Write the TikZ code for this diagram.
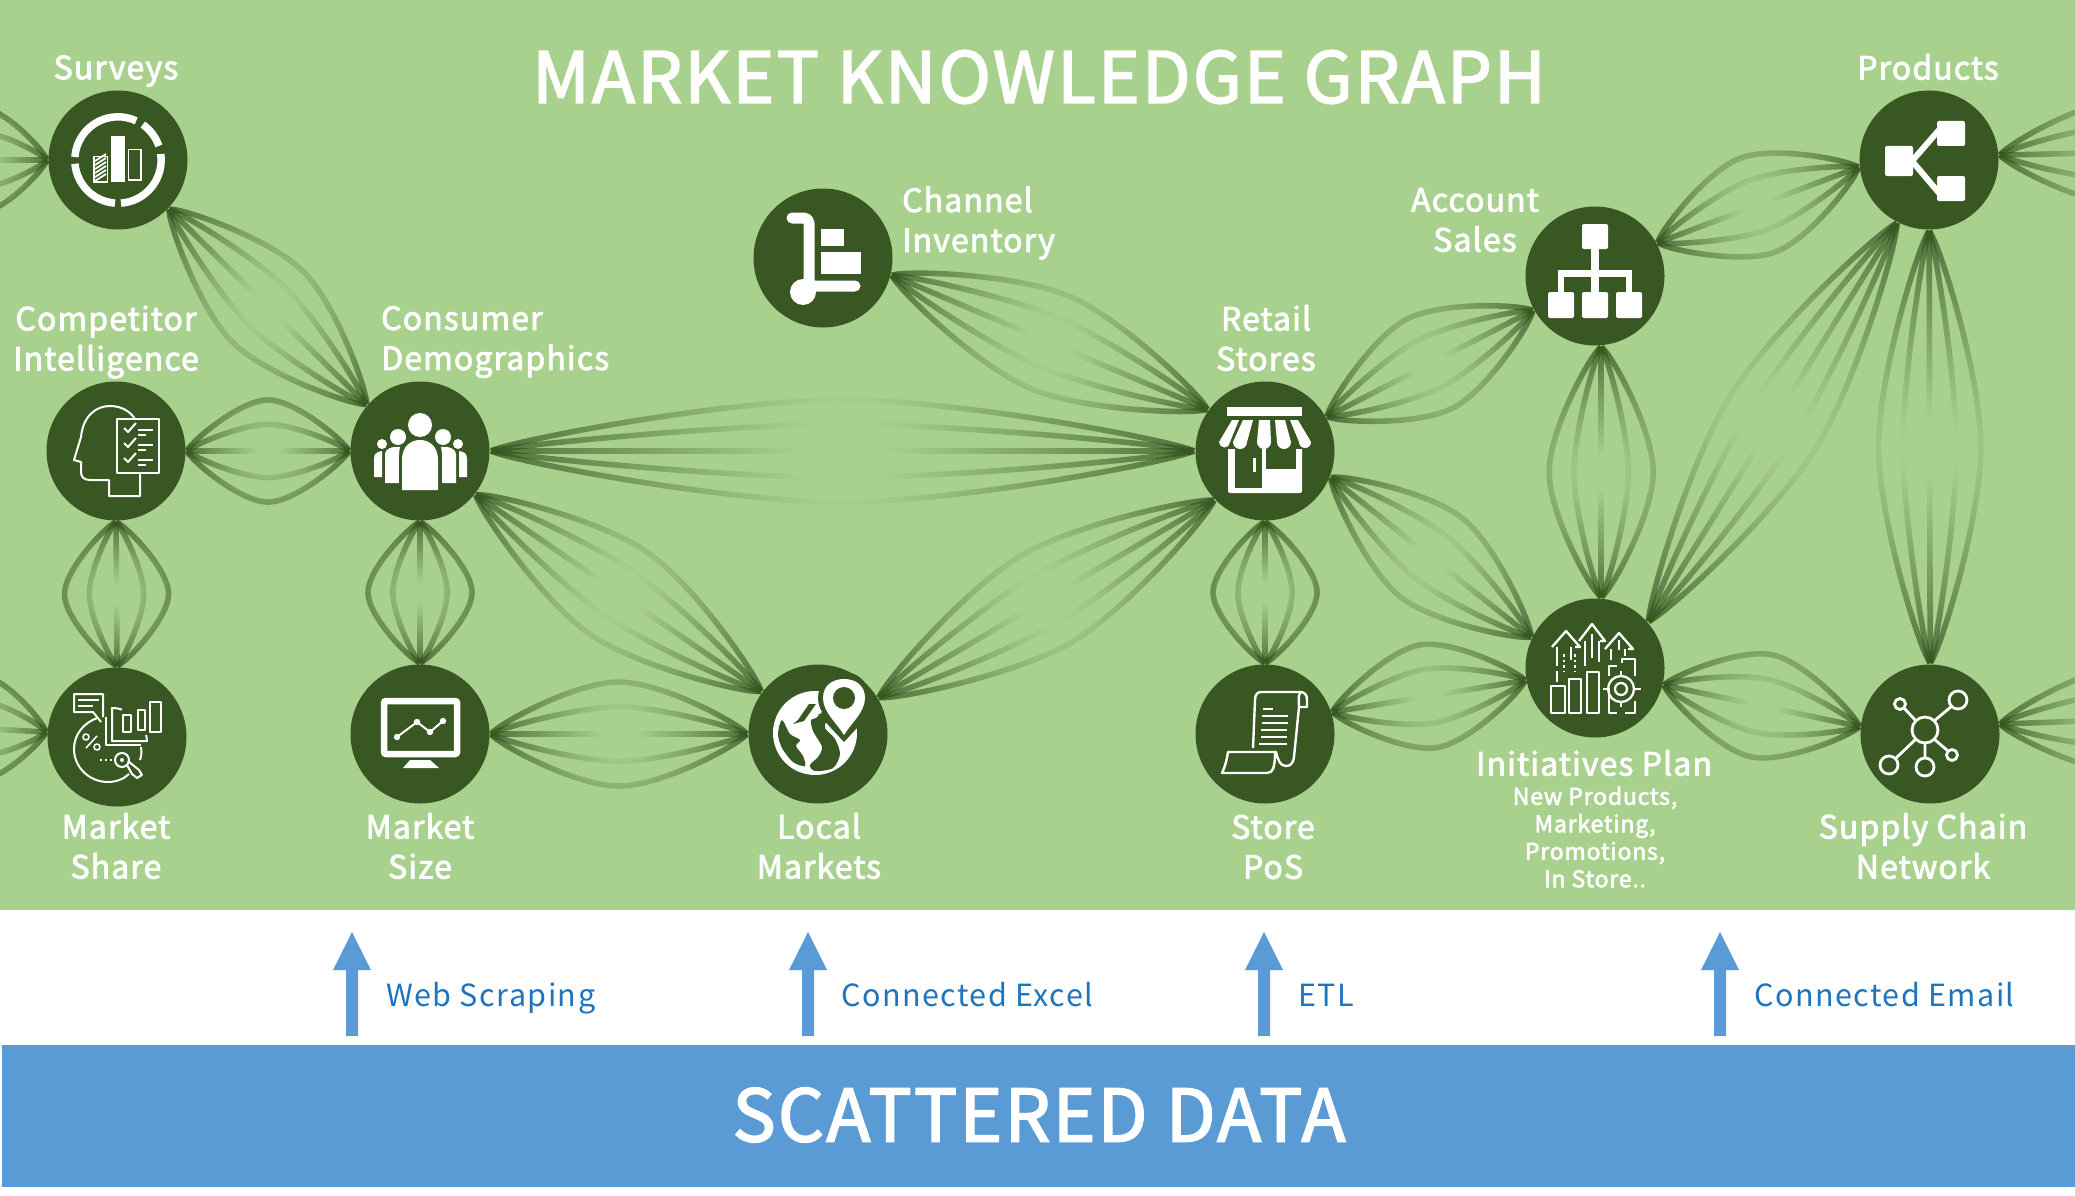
\documentclass[tikz,border=0pt]{standalone}
\usepackage{fontspec}
\setmainfont[LetterSpace=3.5,FakeBold=2.5]{Noto Sans CJK JP}
\newfontfamily\lightfont[LetterSpace=4.8]{Noto Sans CJK JP}
\usetikzlibrary{calc,fadings}
\definecolor{bggreen}{HTML}{A9D18E}
\definecolor{dkgreen}{HTML}{385723}
\definecolor{blueb}{HTML}{5B9BD5}
\definecolor{bluet}{HTML}{1F74BE}
\pgfdeclareradialshading{bundleshade}{\pgfpointorigin}{color(0bp)=(black); color(3bp)=(black); color(25bp)=(black!23!white); color(50bp)=(black!23!white)}
\pgfdeclarefading{bundlefade}{\pgfuseshading{bundleshade}}
\pgfdeclarelayer{ground}
\pgfdeclarelayer{edges}
\pgfsetlayers{ground,edges,main}
\tikzset{
  x=1pt,y=-1pt,
  hub/.style={circle,fill=dkgreen,minimum size=139pt,inner sep=0pt,outer sep=1.5pt},
  lab/.style={text=white,font=\fontsize{32}{40}\selectfont,align=center,inner sep=0pt},
  sublab/.style={text=white,font=\fontsize{23}{27.5}\selectfont,align=center,inner sep=0pt},
  srclab/.style={text=bluet,font=\lightfont\fontsize{30.5}{36}\selectfont,anchor=west,inner sep=0pt},
  bigt/.style={text=white,inner sep=0pt},
  wl/.style={draw=white,line width=2.4pt,fill=none,line join=round},
  bstroke/.style={dkgreen,line width=5.6pt,path fading=bundlefade,fit fading=false,fading transform={shift={(bmid)},scale=\fscg}},
}
\newcommand{\bcurve}[3]{\draw[bstroke] (#1) .. controls ($(#1)!.03!(#2)!.2*#3!90:(#2)$) and ($(#1)!.33!(#2)!#3!90:(#2)$) .. ($(#1)!.5!(#2)!#3!90:(#2)$) .. controls ($(#1)!.67!(#2)!#3!90:(#2)$) and ($(#1)!.97!(#2)!.2*#3!90:(#2)$) .. (#2);}
\newcommand{\bundle}[3]{%
  \coordinate (bmid) at ($(#1)!.5!(#2)$);
  \path let \p1=($(#2)-(#1)$), \n1={veclen(\x1,\y1)} in \pgfextra{\pgfmathsetmacro\fsc{\n1/50.2}\global\let\fscg\fsc};
  \bcurve{#1}{#2}{#3pt} \bcurve{#1}{#2}{-#3pt}
  \bcurve{#1}{#2}{0.52*#3pt} \bcurve{#1}{#2}{-0.52*#3pt}
  \draw[bstroke] (#1) -- (#2);
}
\begin{document}
\begin{tikzpicture}
\useasboundingbox (0,0) rectangle (2075,1196);
\clip (0,0) rectangle (2075,1196);
\begin{pgfonlayer}{ground}
\fill[white] (0,0) rectangle (2075,1196);
\fill[bggreen] (0,0) rectangle (2075,910);
\fill[blueb] (2,1045) rectangle (2075,1187);
\end{pgfonlayer}

\node[hub] (surveys) at (118,160) {};
\node[hub] (compet) at (116,451) {};
\node[hub] (consumer) at (420,451) {};
\node[hub] (share) at (117,737) {};
\node[hub] (msize) at (420,734) {};
\node[hub] (channel) at (823,258) {};
\node[hub] (local) at (818,734) {};
\node[hub] (retail) at (1265,451) {};
\node[hub] (pos) at (1265,734) {};
\node[hub] (account) at (1595,276) {};
\node[hub] (init) at (1595,668) {};
\node[hub] (products) at (1929,160) {};
\node[hub] (supply) at (1930,734) {};
\coordinate (offa) at (-84,160);
\coordinate (offb) at (-85,725);
\coordinate (offc) at (2250,150);
\coordinate (offd) at (2250,715);

\begin{pgfonlayer}{edges}
\bundle{surveys.-44}{consumer.139}{50}
\bundle{compet.0}{consumer.180}{51}
\bundle{compet.-90}{share.90}{52}
\bundle{consumer.-90}{msize.90}{52}
\bundle{msize.0}{local.180}{52}
\bundle{consumer.-38}{local.143}{50}
\bundle{consumer.0}{retail.180}{51}
\bundle{channel.-14}{retail.144}{50}
\bundle{local.31}{retail.-136}{50}
\bundle{retail.-90}{pos.90}{52}
\bundle{retail.29}{account.-151}{50}
\bundle{retail.-22}{init.154}{50}
\bundle{pos.18}{init.190}{52}
\bundle{account.-85}{init.85}{52}
\bundle{account.28}{products.186}{50}
\bundle{init.41}{products.-117}{50}
\bundle{products.-90}{supply.90}{51}
\bundle{init.-14}{supply.174}{52}
\bundle{surveys.180}{offa}{52}
\bundle{share.176}{offb}{52}
\bundle{products.4}{offc}{52}
\bundle{supply.8}{offd}{52}
\end{pgfonlayer}

% --- icons ---
% surveys
\begin{scope}[shift={(surveys.center)}]
 \begin{scope}[yscale=-1]
  \draw[white,line width=7.5pt] (176:43.2) arc (176:65:43.2);
  \draw[white,line width=7.5pt] (55:43.2) arc (55:19:43.2);
  \draw[white,line width=7.5pt] (8:43.2) arc (8:-86:43.2);
  \draw[white,line width=7.5pt] (-94:43.2) arc (-94:-175:43.2);
 \end{scope}
 \fill[white] (-7,-24) rectangle (7,22);
 \draw[white,line width=1.6pt] (10.5,-10.5) rectangle (23,20);
 \draw[white,line width=1.6pt] (-24,-3.5) rectangle (-10.5,22);
 \foreach \q in {0,...,5} \draw[white,line width=1.8pt] (-23,{1+\q*4}) -- (-12,{-6+\q*4});
\end{scope}
% competitor
\begin{scope}[shift={(compet.center)}]
 \draw[wl,line width=2pt] (24,23) -- (24,45) -- (-7,45) -- (-7,29) -- (-26,29) .. controls (-32,29) and (-35,26) .. (-35,21) -- (-35,11) -- (-42,9) -- (-35,-14) .. controls (-33,-35) and (-20,-45) .. (-6,-45) .. controls (5,-45) and (14,-40) .. (19,-32);
 \draw[wl,line width=2pt] (1,-32) rectangle (43,22);
 \foreach \q in {0,15,30}{
  \draw[wl,line width=2pt] (8,{-23+\q}) -- (12,{-19+\q}) -- (20,{-28+\q});
  \draw[wl,line width=2pt] (22,{-21+\q}) -- (37,{-21+\q});
  \draw[wl,line width=2pt] (22,{-16+\q}) -- (30,{-16+\q});
 }
\end{scope}
% consumer
\begin{scope}[shift={(consumer.center)}]
 \fill[white] (0,-26) circle (12);
 \fill[white] (-22,-14) circle (8); \fill[white] (23,-14) circle (8);
 \fill[white] (-38,-7) circle (5); \fill[white] (38,-7) circle (5);
 \fill[white] (-46,26) -- (-46,8) .. controls (-46,3) and (-44,1) .. (-38,0) -- (-38,26) -- cycle;
 \fill[white] (47,26) -- (47,8) .. controls (47,3) and (45,1) .. (39,0) -- (39,26) -- cycle;
 \fill[white] (-35,32) -- (-35,3) .. controls (-35,-2) and (-28,-5) .. (-20,-4) .. controls (-22,5) and (-21,20) .. (-21,32) -- cycle;
 \fill[white] (36,32) -- (36,3) .. controls (36,-2) and (29,-5) .. (21,-4) .. controls (23,5) and (22,20) .. (22,32) -- cycle;
 \fill[white] (-18,39) -- (-18,9) .. controls (-18,-6) and (-8,-11) .. (0,-11) .. controls (8,-11) and (18,-6) .. (18,9) -- (18,39) -- cycle;
\end{scope}
% market share
\begin{scope}[shift={(share.center)}]
 \draw[wl,line width=2pt] (-14,-20) -- (-14,-43) -- (-43,-43) -- (-43,-25) -- (-24,-25) -- (-16,-15);
 \draw[wl,line width=2pt] (-39,-37) -- (-18,-37) (-39,-31) -- (-24,-31);
 \draw[wl,line width=2pt] (-20,-19) .. controls (-33,-14) and (-43,-3) .. (-43,12) .. controls (-43,30) and (-28,45) .. (-9,45) .. controls (-1,45) and (7,42) .. (12,37);
 \draw[wl,line width=2pt] (24,10) .. controls (25,16) and (24,20) .. (23,23);
 \draw[wl,line width=2pt] (-11,-20) -- (-11,8) -- (24,8);
 \draw[wl,line width=2pt] (-5,-29) .. controls (12,-29) and (29,-15) .. (30,4) -- (-5,4) -- cycle;
 \fill[dkgreen] (5,-31) rectangle (46,-2);
 \draw[wl,line width=2pt] (6,-22) rectangle (14,-5) (21,-27) rectangle (28,-7) (33,-35) rectangle (44,-5);
 \draw[wl,line width=2pt] (-5,-5) -- (-5,4) -- (30,4);
 \draw[wl,line width=1.6pt] (-31,0) circle (3) (-20,10) circle (3) (-20,-1) -- (-31,11);
 \draw[wl,line width=2pt,dash pattern=on 2pt off 3pt] (-17,23) -- (-5,23);
 \draw[wl,line width=2pt] (5,23) circle (7) ;
 \fill[white] (5,23) circle (2);
 \draw[wl,line width=2pt] (10,28) -- (15,37) -- (20,41) -- (25,38) -- (22,33) -- (11,24);
\end{scope}
% market size
\begin{scope}[shift={(msize.center)}]
 \draw[white,line width=6.5pt,rounded corners=2pt] (-36,-33) rectangle (37,20);
 \fill[white] (-10,26) -- (10,26) -- (19,34) -- (-17,34) -- cycle;
 \draw[white,line width=2pt] (-23,3) -- (-3,-12) -- (10,-2) -- (23,-13);
 \fill[white] (-23,3) circle (3.2) (-3,-12) circle (3.2) (10,-2) circle (3.2) (23,-13) circle (3.2);
\end{scope}
% channel
\begin{scope}[shift={(channel.center)}]
 \draw[white,line width=11pt,line cap=round,line join=round,rounded corners=5pt] (-31,-40) -- (-14,-40) -- (-14,28) -- (32,28);
 \fill[white] (-20,34) circle (13);
 \fill[white] (-2,-29) rectangle (21,-12);
 \fill[white] (-2,-6) rectangle (38,16);
\end{scope}
% retail
\begin{scope}[shift={(retail.center)}]
 \fill[white] (-38,-44) rectangle (37,-35);
 \fill[white,rounded corners=2pt] (-37,-4) rectangle (37,42);
 \fill[dkgreen] (-30,-8) rectangle (-3,37);
 \fill[dkgreen] (1,-8) rectangle (31,18);
 \fill[white] (-12,7) rectangle (-9,21);
 \fill[dkgreen] (-40,-12) rectangle (40,-2);
 \fill[white] (-33,-31) -- (-26,-31) -- (-35,-9) arc (0:180:5.5) -- cycle;
 \fill[white] (-22,-31) -- (-12,-31) -- (-18,-9) arc (0:180:7) -- cycle;
 \fill[white] (-6,-31) -- (5,-31) -- (6,-9) arc (0:180:7) -- cycle;
 \fill[white] (10,-31) -- (20,-31) -- (26,-9) arc (0:180:7) -- cycle;
 \fill[white] (25,-31) -- (33,-31) -- (46,-9) arc (0:180:6) -- cycle;
\end{scope}
% local
\begin{scope}[shift={(local.center)}]
 \fill[white] (-3,-1) circle (42);
 \fill[dkgreen] plot[smooth cycle] coordinates {(-36,-14) (-28,0) (-18,6) (-22,12) (-15,22) (-13,32) (-25,28) (-36,14) (-40,0)};
 \fill[dkgreen] plot[smooth cycle] coordinates {(2,-44) (6,-26) (-2,-16) (-7,-14) (-5,-3) (4,13) (0,23) (-8,31) (-3,37) (15,34) (22,20) (17,5) (7,-6) (10,-15) (28,-40)};
 \fill[dkgreen] (-2,-30) -- (-14,-13) -- (-25,-10) -- (-20,-14) -- (-9,-30) -- cycle;
 \fill[dkgreen] (26,-36) circle (26);
 \fill[dkgreen] (0,-20) -- (52,-20) -- (26,8) -- cycle;
 \fill[white] (26,1) .. controls (18,-12) and (5,-22) .. (5,-36) .. controls (5,-49) and (15,-55) .. (26,-55) .. controls (37,-55) and (47,-49) .. (47,-36) .. controls (47,-22) and (34,-12) .. (26,1) -- cycle;
 \fill[dkgreen] (26,-36) circle (11);
\end{scope}
% pos
\begin{scope}[shift={(pos.center)}]
 \draw[wl] (-12,14) -- (-10,-34) .. controls (-10,-40) and (-7,-42) .. (-4,-42) -- (35,-42) .. controls (40,-42) and (42,-39) .. (42,-34) -- (42,-27) -- (34,-27);
 \draw[wl] (35,-41) .. controls (33,-38) and (34,-33) .. (34,-27) -- (29,23) .. controls (28,30) and (25,32) .. (21,32) .. controls (15,32) and (13,26) .. (11,18) -- (-37,18) .. controls (-38,25) and (-40,33) .. (-43,39) -- (2,39) .. controls (8,39) and (10,33) .. (10,18);
 \foreach \yy/\xa/\xb in {-25/-2/8,-18/-3/23,-11/-3/23,-4/-4/22,3/-4/22,10/-6/22}
   \draw[white,line width=2.4pt] (\xa,\yy) -- (\xb,\yy);
\end{scope}
% account
\begin{scope}[shift={(account.center)}]
 \fill[white,rounded corners=2pt] (-13,-52) rectangle (13,-27);
 \fill[white] (-4,-28) rectangle (4,18);
 \fill[white] (-37,-6) rectangle (37,1);
 \fill[white] (-37,-6) rectangle (-31,18);
 \fill[white] (31,-6) rectangle (37,18);
 \fill[white,rounded corners=2pt] (-47,16) rectangle (-21,42);
 \fill[white,rounded corners=2pt] (-13,16) rectangle (13,42);
 \fill[white,rounded corners=2pt] (21,16) rectangle (47,42);
\end{scope}
% products
\begin{scope}[shift={(products.center)}]
 \fill[white,rounded corners=2pt] (-44,-14) rectangle (-16,16);
 \fill[white,rounded corners=2pt] (8,-39) rectangle (36,-14);
 \fill[white,rounded corners=2pt] (8,16) rectangle (36,41);
 \draw[white,line width=6pt] (-17,1) -- (10,-30) (-17,1) -- (10,33);
\end{scope}
% initiatives
\begin{scope}[shift={(init.center)},wl/.append style={line width=2.3pt}]
 \draw[wl] (-44,18) rectangle (-30,45) (-26,11) rectangle (-14,45) (-8,4) rectangle (4,45);
 \draw[wl] (14,8) -- (14,-2) -- (22,-2);
 \draw[wl] (14,20) -- (14,45) -- (22,45);
 \draw[wl] (27,-5) -- (27,-9) -- (40,-9) -- (40,8);
 \draw[wl] (30,45) -- (40,45) -- (40,33);
 \draw[wl] (26,21) circle (13) (26,21) circle (6);
 \draw[wl] (26,3) -- (26,8) (26,34) -- (26,39) (8,21) -- (13,21) (39,21) -- (46,21);
 \draw[wl] (-43,-21) -- (-29,-37) -- (-15,-21) -- (-20,-21);
 \draw[wl] (-16,-27) -- (-3,-44) -- (10,-27) -- (5,-27);
 \draw[wl] (10,-19) -- (24,-35) -- (38,-19) -- (33,-19);
 \draw[wl] (-38,-21) -- (-38,-2) (-24,-21) -- (-24,-8) (-38,3) -- (-38,14);
 \draw[wl] (-10,-27) -- (-10,-2) (4,-27) -- (4,-6) (-3,-34) -- (-3,-10);
 \draw[wl] (16,-19) -- (16,-8) (30,-19) -- (30,-12) (24,-28) -- (24,-18);
 \draw[wl,dash pattern=on 2.5pt off 3pt] (-31,-14) -- (-31,4) (-20,-14) -- (-20,4);
\end{scope}
% supply
\begin{scope}[shift={(supply.center)},wl/.append style={line width=2.8pt}]
 \draw[wl] (-5,-4) circle (13) (28,-34) circle (9) (-30,-30) circle (5.5) (-41,31) circle (9) (-5,33) circle (9) (22,21) circle (5.5);
 \draw[wl] (4,-13) -- (22,-28) (-14,-13) -- (-26,-26) (-14,5) -- (-35,25) (-5,9) -- (-5,24) (4,5) -- (18,17);
\end{scope}

% --- labels ---
\node[bigt,font=\fontsize{70.5}{80}\selectfont] (title) at (1039,77) {MARKET KNOWLEDGE GRAPH};
\node[lab] (l1) at (116,71) {Surveys};
\node[lab] (l2) at (106,342) {Competitor\\Intelligence};
\node[lab,align=left,anchor=west] (l3) at (381,342) {Consumer\\Demographics};
\node[lab,align=left,anchor=west] (l4) at (902,223) {Channel\\Inventory};
\node[lab] (l5) at (1475,220) {Account\\Sales};
\node[lab] (l6) at (1266,338) {Retail\\Stores};
\node[lab] (l7) at (1928,67) {Products};
\node[lab] (l8) at (116,846) {Market\\Share};
\node[lab] (l9) at (420,846) {Market\\Size};
\node[lab] (l10) at (819,846) {Local\\Markets};
\node[lab] (l11) at (1273,847) {Store\\PoS};
\node[lab] (l12) at (1923,846) {Supply Chain\\Network};
\node[lab] (l13) at (1594,763) {Initiatives Plan};
\node[sublab] (l14) at (1595,837) {New Products,\\Marketing,\\Promotions,\\In Store..};

% --- arrows and source labels ---
\coordinate (bar1) at (352,1036);
\coordinate (bar2) at (808,1036);
\coordinate (bar3) at (1264,1036);
\coordinate (bar4) at (1720,1036);
\foreach \n in {1,2,3,4}{
 \fill[blueb] ($(bar\n)+(-6,0)$) -- ($(bar\n)+(-6,-66)$) -- ($(bar\n)+(-19,-66)$) -- ($(bar\n)+(0,-104)$) -- ($(bar\n)+(19,-66)$) -- ($(bar\n)+(6,-66)$) -- ($(bar\n)+(6,0)$) -- cycle;
}
\node[srclab] (s1) at (386,998) {Web Scraping};
\node[srclab] (s2) at (841,995) {Connected Excel};
\node[srclab] (s3) at (1298,995) {ETL};
\node[srclab] (s4) at (1754,995) {Connected Email};
\node[bigt,font=\fontsize{72}{80}\selectfont] (scat) at (1039,1115) {SCATTERED DATA};
\end{tikzpicture}
\end{document}
